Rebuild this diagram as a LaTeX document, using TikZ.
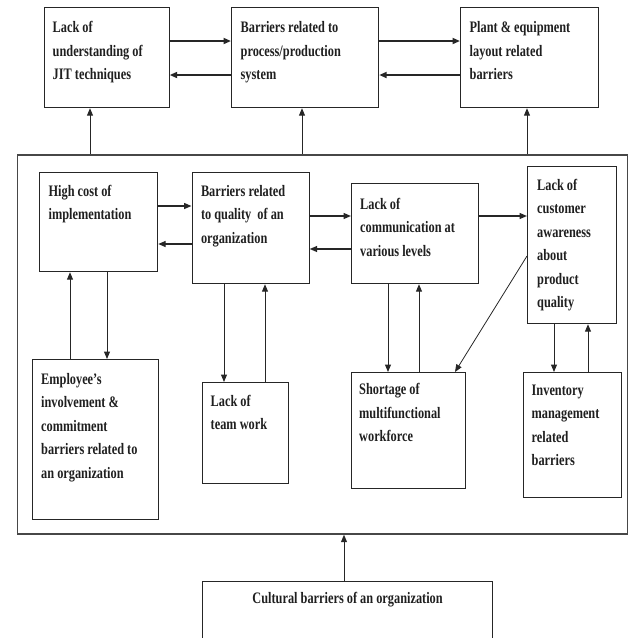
\documentclass[tikz,border=0pt]{standalone}
\usepackage{fontspec}
\newfontfamily\jitfont{Liberation Serif}[FakeStretch=0.77]
\usetikzlibrary{arrows.meta,calc}
\begin{document}
\begin{tikzpicture}[x=1pt,y=-1pt,
  box/.style={draw=black!85, line width=1.2pt, inner sep=0pt, anchor=north west},
  txt/.style={inner sep=0pt, anchor=north west, align=left, text=black!88,
    font=\jitfont\bfseries\fontsize{16}{23.5}\selectfont},
  arr/.style={line width=1pt, draw=black!85, -{Triangle[length=7.5pt,width=6pt]}},
  marr/.style={arr, line width=1.4pt},
  harr/.style={arr, line width=1.8pt}]
\useasboundingbox (0,0) rectangle (632,638);

% top row
\node[box, minimum width=125pt, minimum height=100pt] (b1) at (43.5,7) {};
\node[box, minimum width=147pt, minimum height=100pt] (b2) at (231,7) {};
\node[box, minimum width=138pt, minimum height=100pt] (b3) at (460,7) {};
\node[txt] (b1t) at ($(b1.north west)+(9,14.3)$) {Lack of\\understanding of\\JIT techniques};
\node[txt] (b2t) at ($(b2.north west)+(9.5,14.3)$) {Barriers related to\\process/production\\system};
\node[txt] (b3t) at ($(b3.north west)+(9.5,14.3)$) {Plant \& equipment\\layout related\\barriers};

% frame
\node[box, draw=black!72, line width=1.7pt, minimum width=610pt, minimum height=379pt] (frame) at (16.7,154) {};

% middle row
\node[box, minimum width=118pt, minimum height=99pt] (m1) at (39,172) {};
\node[box, minimum width=117pt, minimum height=111pt] (m2) at (191.5,172) {};
\node[box, minimum width=127pt, minimum height=100pt] (m3) at (351,183) {};
\node[box, minimum width=89pt, minimum height=157pt] (m4) at (527,166) {};
\node[txt] (m1t) at ($(m1.north west)+(9.4,12.7)$) {High cost of\\implementation};
\node[txt] (m2t) at ($(m2.north west)+(9.3,12.7)$) {Barriers related\\to quality\ \ of an\\organization};
\node[txt] (m3t) at ($(m3.north west)+(9,14.7)$) {Lack of\\communication at\\various levels};
\node[txt] (m4t) at ($(m4.north west)+(10,13)$) {Lack of\\customer\\awareness\\about\\product\\quality};

% bottom row
\node[box, minimum width=126pt, minimum height=160pt] (s1) at (31.7,359) {};
\node[box, minimum width=86pt, minimum height=101pt] (s2) at (201.6,382) {};
\node[box, minimum width=113.5pt, minimum height=116pt] (s3) at (351,372) {};
\node[box, minimum width=98.5pt, minimum height=125pt] (s4) at (522.6,372) {};
\node[txt] (s1t) at ($(s1.north west)+(9.3,14)$) {Employee’s\\involvement \&\\commitment\\barriers related to\\an organization};
\node[txt] (s2t) at ($(s2.north west)+(8.9,12.7)$) {Lack of\\team work};
\node[txt] (s3t) at ($(s3.north west)+(8,11.3)$) {Shortage of\\multifunctional\\workforce};
\node[txt] (s4t) at ($(s4.north west)+(8.9,12.7)$) {Inventory\\management\\related\\barriers};

% cultural box
\node[box, minimum width=290pt, minimum height=70pt] (cb) at (202,581) {};
\node[txt, anchor=north] (cbt) at ($(cb.north)+(0,11.5)$) {Cultural barriers of an organization};

% helper coordinates
\coordinate (yA) at (0,41);
\coordinate (yB) at (0,75);
\coordinate (yC) at (0,206);
\coordinate (yD) at (0,244);
\coordinate (yE) at (0,216);
\coordinate (yF) at (0,249);
\coordinate (yG) at (0,256);
\coordinate (x90) at (90,0);
\coordinate (x302) at (302,0);
\coordinate (x527) at (527,0);
\coordinate (x70) at (70,0);
\coordinate (x107) at (107,0);
\coordinate (x224) at (224,0);
\coordinate (x265) at (265,0);
\coordinate (x388) at (388,0);
\coordinate (x419) at (419,0);
\coordinate (x455) at (455,0);
\coordinate (x554) at (554,0);
\coordinate (x588) at (588,0);
\coordinate (x344) at (344,0);

% top connectors
\draw[harr] (b1.east |- yA) -- (b2.west |- yA);
\draw[harr] (b2.west |- yB) -- (b1.east |- yB);
\draw[harr] (b2.east |- yA) -- (b3.west |- yA);
\draw[harr] (b3.west |- yB) -- (b2.east |- yB);
\draw[arr] (frame.north -| x90) -- (b1.south -| x90);
\draw[arr] (frame.north -| x302) -- (b2.south -| x302);
\draw[arr] (frame.north -| x527) -- (b3.south -| x527);

% middle connectors
\draw[marr] (m1.east |- yC) -- (m2.west |- yC);
\draw[marr] (m2.west |- yD) -- (m1.east |- yD);
\draw[marr] (m2.east |- yE) -- (m3.west |- yE);
\draw[marr] (m3.west |- yF) -- (m2.east |- yF);
\draw[marr] (m3.east |- yE) -- (m4.west |- yE);
\draw[arr, line width=0.8pt] (m4.west |- yG) -- (s3.north -| x455);

% vertical connectors
\draw[arr] (s1.north -| x70) -- (m1.south -| x70);
\draw[arr] (m1.south -| x107) -- (s1.north -| x107);
\draw[arr] (m2.south -| x224) -- (s2.north -| x224);
\draw[arr] (s2.north -| x265) -- (m2.south -| x265);
\draw[arr] (m3.south -| x388) -- (s3.north -| x388);
\draw[arr] (s3.north -| x419) -- (m3.south -| x419);
\draw[arr] (m4.south -| x554) -- (s4.north -| x554);
\draw[arr] (s4.north -| x588) -- (m4.south -| x588);
\draw[arr] (cb.north -| x344) -- (frame.south -| x344);
\end{tikzpicture}
\end{document}
